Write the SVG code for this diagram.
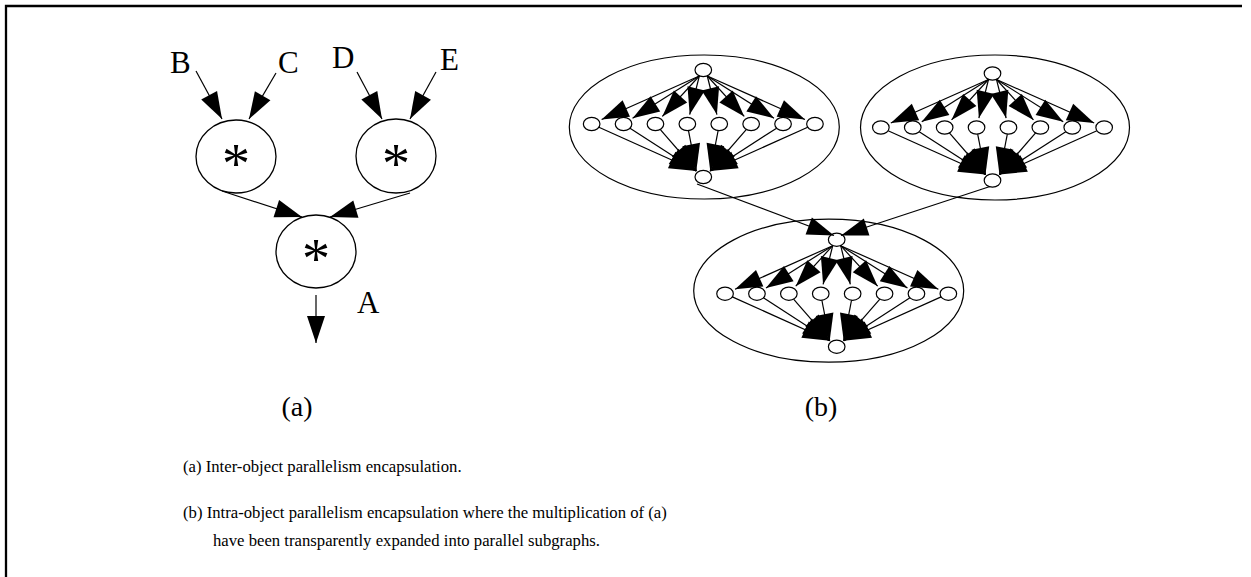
<svg xmlns="http://www.w3.org/2000/svg" width="1251" height="577" viewBox="0 0 1251 577">
<defs>
<style>
.t{font-family:"Liberation Serif","Times New Roman",serif;fill:#000}
.big{fill:#fff;stroke:#000;stroke-width:1.3}
.sn{fill:#fff;stroke:#000;stroke-width:1.2}
.cl{fill:none;stroke:#000;stroke-width:1.2}
.e{fill:none;stroke:#000;stroke-width:1.2;marker-end:url(#ah)}
</style>
<marker id="ah" markerUnits="userSpaceOnUse" markerWidth="28" markerHeight="20" refX="27" refY="9" orient="auto" overflow="visible"><path d="M0,0 L27,9 L0,18 Z" fill="#000"/></marker>
</defs>
<rect width="1251" height="577" fill="#fff"/>
<path d="M6,577 V6 H1242" fill="none" stroke="#000" stroke-width="2.3"/>

<!-- (a) nodes -->
<g id="nodeL"><ellipse class="big" cx="236" cy="156.5" rx="40" ry="36.5"/><text class="t" x="236" y="183" font-size="56" text-anchor="middle">*</text></g>
<g id="nodeR"><ellipse class="big" cx="396" cy="156" rx="40" ry="37"/><text class="t" x="396" y="183" font-size="56" text-anchor="middle">*</text></g>
<g id="nodeA"><ellipse class="big" cx="316" cy="251.5" rx="40" ry="36.5"/><text class="t" x="316" y="278" font-size="56" text-anchor="middle">*</text></g>
<g id="labels-a">
<text class="t" x="170" y="73" font-size="31">B</text>
<text class="t" x="278" y="73" font-size="31">C</text>
<text class="t" x="332" y="68" font-size="31">D</text>
<text class="t" x="440" y="70" font-size="31">E</text>
<text class="t" x="357" y="313" font-size="31">A</text>
</g>

<!-- (b) clusters -->
<g id="clusterTL" transform="translate(703.3,70)">
<ellipse class="cl" cx="1" cy="57" rx="135" ry="72"/>
<ellipse class="sn" cx="0" cy="0" rx="8.3" ry="6.6"/>
<ellipse class="sn" cx="-111.65" cy="54" rx="8.3" ry="6.6"/><ellipse class="sn" cx="-79.75" cy="54" rx="8.3" ry="6.6"/><ellipse class="sn" cx="-47.85" cy="54" rx="8.3" ry="6.6"/><ellipse class="sn" cx="-15.95" cy="54" rx="8.3" ry="6.6"/>
<ellipse class="sn" cx="15.95" cy="54" rx="8.3" ry="6.6"/><ellipse class="sn" cx="47.85" cy="54" rx="8.3" ry="6.6"/><ellipse class="sn" cx="79.75" cy="54" rx="8.3" ry="6.6"/><ellipse class="sn" cx="111.65" cy="54" rx="8.3" ry="6.6"/>
<ellipse class="sn" cx="0" cy="107" rx="8.3" ry="6.6"/>
</g>
<g id="clusterTR" transform="translate(992.5,73.5)">
<ellipse class="cl" cx="2.5" cy="54" rx="134.5" ry="72.5"/>
<ellipse class="sn" cx="0" cy="0" rx="8.3" ry="6.6"/>
<ellipse class="sn" cx="-111.65" cy="54" rx="8.3" ry="6.6"/><ellipse class="sn" cx="-79.75" cy="54" rx="8.3" ry="6.6"/><ellipse class="sn" cx="-47.85" cy="54" rx="8.3" ry="6.6"/><ellipse class="sn" cx="-15.95" cy="54" rx="8.3" ry="6.6"/>
<ellipse class="sn" cx="15.95" cy="54" rx="8.3" ry="6.6"/><ellipse class="sn" cx="47.85" cy="54" rx="8.3" ry="6.6"/><ellipse class="sn" cx="79.75" cy="54" rx="8.3" ry="6.6"/><ellipse class="sn" cx="111.65" cy="54" rx="8.3" ry="6.6"/>
<ellipse class="sn" cx="0" cy="107" rx="8.3" ry="6.6"/>
</g>
<g id="clusterB" transform="translate(836.7,239.7)">
<ellipse class="cl" cx="-8" cy="51" rx="135" ry="71.5"/>
<ellipse class="sn" cx="0" cy="0" rx="8.3" ry="6.6"/>
<ellipse class="sn" cx="-111.65" cy="54" rx="8.3" ry="6.6"/><ellipse class="sn" cx="-79.75" cy="54" rx="8.3" ry="6.6"/><ellipse class="sn" cx="-47.85" cy="54" rx="8.3" ry="6.6"/><ellipse class="sn" cx="-15.95" cy="54" rx="8.3" ry="6.6"/>
<ellipse class="sn" cx="15.95" cy="54" rx="8.3" ry="6.6"/><ellipse class="sn" cx="47.85" cy="54" rx="8.3" ry="6.6"/><ellipse class="sn" cx="79.75" cy="54" rx="8.3" ry="6.6"/><ellipse class="sn" cx="111.65" cy="54" rx="8.3" ry="6.6"/>
<ellipse class="sn" cx="0" cy="107" rx="8.3" ry="6.6"/>
</g>

<g id="connectors">
<line class="e" x1="196" y1="71" x2="222" y2="119"/>
<line class="e" x1="276" y1="73" x2="249" y2="119"/>
<line class="e" x1="357" y1="72" x2="382" y2="119"/>
<line class="e" x1="436" y1="72" x2="410" y2="119"/>
<line class="e" x1="222" y1="191" x2="302" y2="217"/>
<line class="e" x1="410" y1="193" x2="330" y2="217"/>
<line class="e" x1="316" y1="295" x2="316" y2="343"/>
<line class="e" x1="697" y1="184" x2="834" y2="235.5"/>
<line class="e" x1="990" y1="186.5" x2="841" y2="235.5"/>
<g transform="translate(703.3,70)">
<line class="e" x1="-4" y1="6" x2="-101.67" y2="49.55"/><line class="e" x1="-4" y1="6" x2="-70.72" y2="48.28"/><line class="e" x1="-4" y1="6" x2="-40.95" y2="46.45"/><line class="e" x1="-4" y1="6" x2="-13.61" y2="44.61"/>
<line class="e" x1="4" y1="6" x2="101.67" y2="49.55"/><line class="e" x1="4" y1="6" x2="70.72" y2="48.28"/><line class="e" x1="4" y1="6" x2="40.95" y2="46.45"/><line class="e" x1="4" y1="6" x2="13.61" y2="44.61"/>
<line class="e" x1="-104.4" y1="57.22" x2="-7" y2="101"/><line class="e" x1="-73.29" y1="58.14" x2="-7" y2="101"/><line class="e" x1="-43.14" y1="59.44" x2="-7" y2="101"/><line class="e" x1="-14.82" y1="60.54" x2="-7" y2="101"/>
<line class="e" x1="104.4" y1="57.22" x2="7" y2="101"/><line class="e" x1="73.29" y1="58.14" x2="7" y2="101"/><line class="e" x1="43.14" y1="59.44" x2="7" y2="101"/><line class="e" x1="14.82" y1="60.54" x2="7" y2="101"/>
</g>
<g transform="translate(992.5,73.5)">
<line class="e" x1="-4" y1="6" x2="-101.67" y2="49.55"/><line class="e" x1="-4" y1="6" x2="-70.72" y2="48.28"/><line class="e" x1="-4" y1="6" x2="-40.95" y2="46.45"/><line class="e" x1="-4" y1="6" x2="-13.61" y2="44.61"/>
<line class="e" x1="4" y1="6" x2="101.67" y2="49.55"/><line class="e" x1="4" y1="6" x2="70.72" y2="48.28"/><line class="e" x1="4" y1="6" x2="40.95" y2="46.45"/><line class="e" x1="4" y1="6" x2="13.61" y2="44.61"/>
<line class="e" x1="-104.4" y1="57.22" x2="-7" y2="101"/><line class="e" x1="-73.29" y1="58.14" x2="-7" y2="101"/><line class="e" x1="-43.14" y1="59.44" x2="-7" y2="101"/><line class="e" x1="-14.82" y1="60.54" x2="-7" y2="101"/>
<line class="e" x1="104.4" y1="57.22" x2="7" y2="101"/><line class="e" x1="73.29" y1="58.14" x2="7" y2="101"/><line class="e" x1="43.14" y1="59.44" x2="7" y2="101"/><line class="e" x1="14.82" y1="60.54" x2="7" y2="101"/>
</g>
<g transform="translate(836.7,239.7)">
<line class="e" x1="-4" y1="6" x2="-101.67" y2="49.55"/><line class="e" x1="-4" y1="6" x2="-70.72" y2="48.28"/><line class="e" x1="-4" y1="6" x2="-40.95" y2="46.45"/><line class="e" x1="-4" y1="6" x2="-13.61" y2="44.61"/>
<line class="e" x1="4" y1="6" x2="101.67" y2="49.55"/><line class="e" x1="4" y1="6" x2="70.72" y2="48.28"/><line class="e" x1="4" y1="6" x2="40.95" y2="46.45"/><line class="e" x1="4" y1="6" x2="13.61" y2="44.61"/>
<line class="e" x1="-104.4" y1="57.22" x2="-7" y2="101"/><line class="e" x1="-73.29" y1="58.14" x2="-7" y2="101"/><line class="e" x1="-43.14" y1="59.44" x2="-7" y2="101"/><line class="e" x1="-14.82" y1="60.54" x2="-7" y2="101"/>
<line class="e" x1="104.4" y1="57.22" x2="7" y2="101"/><line class="e" x1="73.29" y1="58.14" x2="7" y2="101"/><line class="e" x1="43.14" y1="59.44" x2="7" y2="101"/><line class="e" x1="14.82" y1="60.54" x2="7" y2="101"/>
</g>
</g>

<g id="captions">
<text class="t" x="297" y="416" font-size="28" text-anchor="middle">(a)</text>
<text class="t" x="821" y="416" font-size="28" text-anchor="middle">(b)</text>
<text class="t" x="183" y="472" font-size="16.7">(a) Inter-object parallelism encapsulation.</text>
<text class="t" x="183" y="518" font-size="16.7">(b) Intra-object parallelism encapsulation where the multiplication of (a)</text>
<text class="t" x="213" y="546" font-size="16.7">have been transparently expanded into parallel subgraphs.</text>
</g>
</svg>
